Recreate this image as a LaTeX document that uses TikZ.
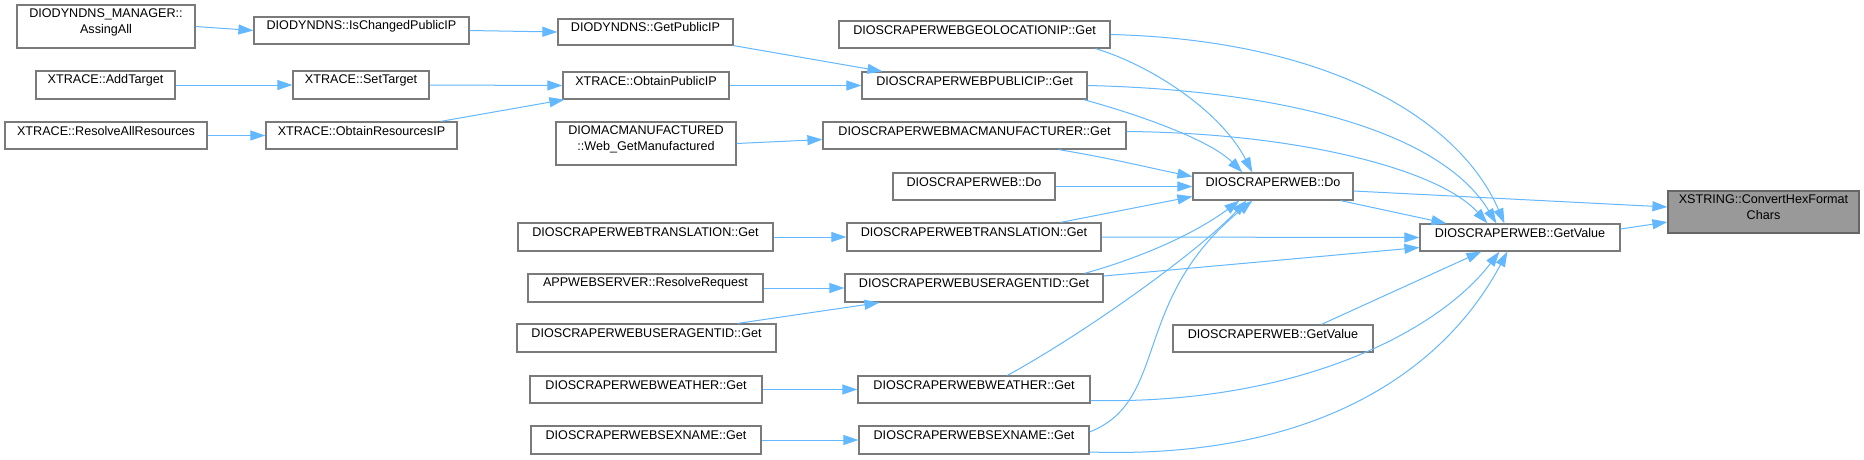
\documentclass[tikz,border=0pt]{standalone}
\usepackage{fontspec}
\setmainfont{Liberation Sans}
\usetikzlibrary{arrows.meta,fit,calc}
\definecolor{edgeblue}{HTML}{63B8FF}
\definecolor{boxgray}{HTML}{7A7A7A}
\definecolor{hlgray}{HTML}{999999}
\definecolor{hlborder}{HTML}{666666}
\begin{document}
\begin{tikzpicture}[x=1pt,y=-1pt,
  box/.style={draw=boxgray, fill=white, line width=1.2pt, inner sep=0pt, align=center,
    font=\fontsize{12.6}{16}\selectfont},
  hl/.style={box, fill=hlgray, draw=hlborder},
  edge/.style={draw=edgeblue, line width=1pt, -{Triangle[length=15pt,width=10pt]}}]
\fill[white] (0,0) rectangle (1864,459);
\useasboundingbox (0,0) rectangle (1864,459);

% nodes
\node[box, fit={(17,5) (195,48)}] (assing) {DIODYNDNS\_MANAGER::\\AssingAll};
\node[box, fit={(254,17) (469,44)}] (ischanged) {DIODYNDNS::IsChangedPublicIP};
\node[box, fit={(36,71) (175,99)}] (addt) {XTRACE::AddTarget};
\node[box, fit={(293,71) (429,99)}] (sett) {XTRACE::SetTarget};
\node[box, fit={(5,122) (207,149)}] (resall) {XTRACE::ResolveAllResources};
\node[box, fit={(266,122) (457,149)}] (obtres) {XTRACE::ObtainResourcesIP};
\node[box, fit={(558,19) (733,45)}] (getpub) {DIODYNDNS::GetPublicIP};
\node[box, fit={(563,72) (729,99)}] (obtpub) {XTRACE::ObtainPublicIP};
\node[box, fit={(556,122) (736,165)}] (macfd) {DIOMACMANUFACTURED\\::Web\_GetManufactured};
\node[box, fit={(839,21) (1110,48)}] (geo) {DIOSCRAPERWEBGEOLOCATIONIP::Get};
\node[box, fit={(862,72) (1087,99)}] (pub) {DIOSCRAPERWEBPUBLICIP::Get};
\node[box, fit={(823,122) (1126,149)}] (macget) {DIOSCRAPERWEBMACMANUFACTURER::Get};
\node[box, fit={(893,173) (1055,200)}] (doleft) {DIOSCRAPERWEB::Do};
\node[box, fit={(518,223) (773,251)}] (trl) {DIOSCRAPERWEBTRANSLATION::Get};
\node[box, fit={(847,223) (1101,251)}] (trr) {DIOSCRAPERWEBTRANSLATION::Get};
\node[box, fit={(528,274) (763,302)}] (app) {APPWEBSERVER::ResolveRequest};
\node[box, fit={(845,274) (1103,302)}] (uar) {DIOSCRAPERWEBUSERAGENTID::Get};
\node[box, fit={(517,324) (776,352)}] (ual) {DIOSCRAPERWEBUSERAGENTID::Get};
\node[box, fit={(530,376) (762,403)}] (wl) {DIOSCRAPERWEBWEATHER::Get};
\node[box, fit={(858,376) (1090,403)}] (wr) {DIOSCRAPERWEBWEATHER::Get};
\node[box, fit={(531,426) (761,454)}] (sl) {DIOSCRAPERWEBSEXNAME::Get};
\node[box, fit={(859,426) (1089,454)}] (sr) {DIOSCRAPERWEBSEXNAME::Get};
\node[box, fit={(1193,173) (1353,200)}] (domid) {DIOSCRAPERWEB::Do};
\node[box, fit={(1420,224) (1620,251)}] (gv) {DIOSCRAPERWEB::GetValue};
\node[box, fit={(1173,325) (1373,352)}] (gv2) {DIOSCRAPERWEB::GetValue};
\node[hl, fit={(1668,191) (1859,233)}] (xs) {XSTRING::ConvertHexFormat\\Chars};

% edges
\draw[edge] (assing.east) -- (ischanged.west);
\draw[edge] (ischanged.east) -- (getpub.west);
\draw[edge] (addt.east) -- (sett.west);
\draw[edge] (sett.east) -- (obtpub.west);
\draw[edge] (resall.east) -- (obtres.west);
\draw[edge] ($(obtres.north east)+(-17,0)$) -- ($(obtpub.south west)+(2,0)$);
\draw[edge] (getpub.south east) -- ($(pub.north west)+(21,0)$);
\draw[edge] (obtpub.east) -- (pub.west);
\draw[edge] (macfd.east) -- ($(macget.west)+(0,4)$);

\draw[edge] (geo.east) .. controls (1330,40) and (1460,120) .. ($(gv.north west)+(85,0)$);
\draw[edge] ($(geo.south east)+(-15,0)$) .. controls (1150,65) and (1220,110) .. ($(domid.north west)+(60,0)$);
\draw[edge] (pub.east) .. controls (1280,90) and (1440,130) .. ($(gv.north west)+(77,0)$);
\draw[edge] ($(pub.south east)+(-4,0)$) .. controls (1140,115) and (1210,140) .. ($(domid.north west)+(50,0)$);
\draw[edge] ($(macget.east)+(0,-4)$) .. controls (1300,133) and (1440,170) .. ($(gv.north west)+(68,0)$);
\draw[edge] ($(macget.south east)+(-68,0)$) .. controls (1110,158) and (1150,168) .. ($(domid.west)+(0,-10)$);
\draw[edge] (doleft.east) -- (domid.west);
\draw[edge] ($(trr.north east)+(-41,0)$) -- ($(domid.west)+(0,10)$);
\draw[edge] (trr.east) -- (gv.west);
\draw[edge] ($(uar.north east)+(-19,0)$) .. controls (1150,255) and (1200,230) .. ($(domid.south west)+(47,0)$);
\draw[edge] ($(uar.east)+(0,-12)$) -- ($(gv.west)+(0,10)$);
\draw[edge] ($(wr.north west)+(150,0)$) .. controls (1090,330) and (1200,250) .. ($(domid.south west)+(54,0)$);
\draw[edge] ($(wr.east)+(0,11)$) .. controls (1300,405) and (1440,330) .. ($(gv.south west)+(80,0)$);
\draw[edge] ($(sr.east)+(0,-8)$) .. controls (1170,400) and (1130,300) .. ($(domid.south west)+(60,0)$);
\draw[edge] ($(sr.east)+(0,12)$) .. controls (1330,460) and (1450,360) .. ($(gv.south west)+(88,0)$);
\draw[edge] ($(gv2.north west)+(149,0)$) -- ($(gv.south west)+(62,0)$);
\draw[edge] ($(domid.east)+(0,4.5)$) -- ($(xs.west)+(0,-5)$);
\draw[edge] ($(domid.south east)+(-13,0)$) -- ($(gv.north west)+(27,0)$);
\draw[edge] ($(gv.east)+(0,-8.5)$) -- ($(xs.west)+(0,10)$);
\draw[edge] (trl.east) -- (trr.west);
\draw[edge] (app.east) -- (uar.west);
\draw[edge] ($(ual.north east)+(-39,0)$) -- ($(uar.south west)+(35,0)$);
\draw[edge] (wl.east) -- (wr.west);
\draw[edge] (sl.east) -- (sr.west);
\end{tikzpicture}
\end{document}
